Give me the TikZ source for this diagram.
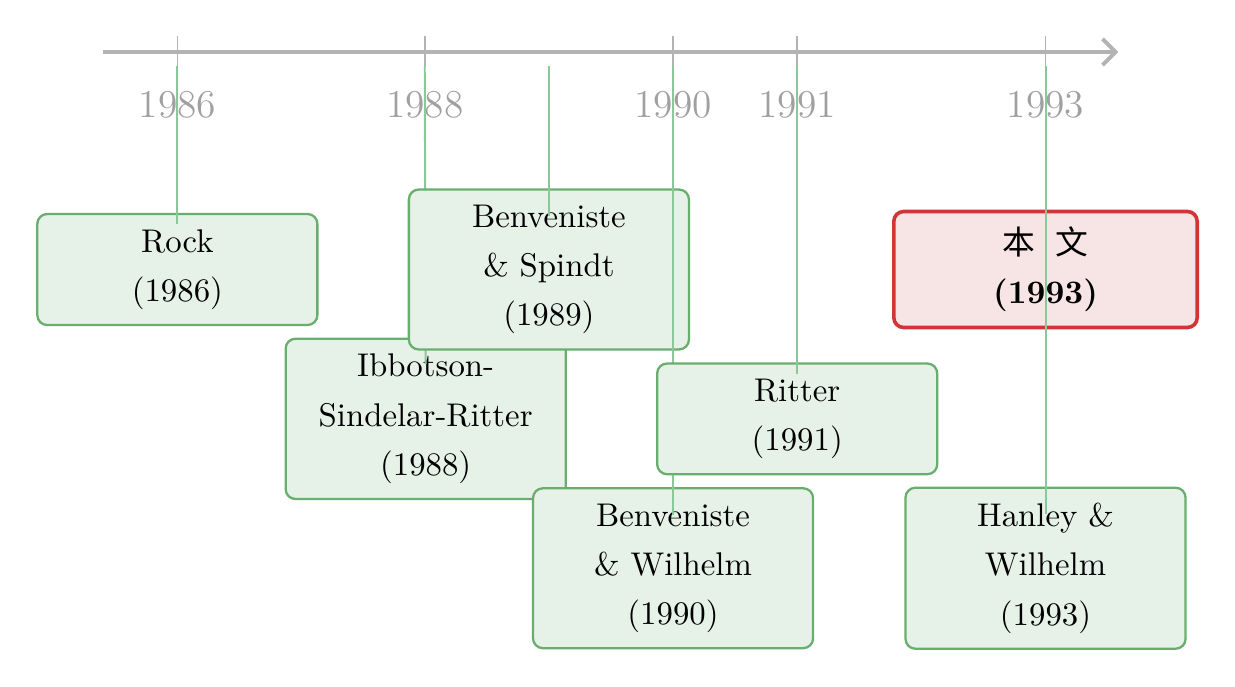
\documentclass[tikz,border=0pt]{standalone}
\usepackage{fontspec}
\newfontfamily\cjk{Noto Sans CJK SC}
\usetikzlibrary{arrows.meta}

\definecolor{axisgray}{HTML}{B3B3B3}
\definecolor{yeargray}{HTML}{A0A0A0}
\definecolor{boxgreen}{HTML}{6AAE6F}
\definecolor{fillgreen}{HTML}{E6F2E8}
\definecolor{linkgreen}{HTML}{8CC79A}
\definecolor{oursred}{HTML}{D13636}
\definecolor{fillred}{HTML}{F7E4E5}

\begin{document}
\begin{tikzpicture}[
  axis/.style={axisgray,line width=1.2pt},
  tick/.style={axisgray,line width=0.5pt},
  yearlabel/.style={text=yeargray,font=\large},
  work/.style={draw=boxgreen,fill=fillgreen,line width=0.7pt,rounded corners=3pt,
    align=center,minimum width=3.0cm,inner ysep=4.7pt,
    font={\fontsize{10}{15}\selectfont}},
  ours/.style={work,draw=oursred,fill=fillred,line width=1.1pt,minimum width=3.25cm},
  link/.style={linkgreen,line width=0.6pt},
  ourslink/.style={oursred,line width=0.6pt,opacity=0.4}
]
\useasboundingbox (0,0.557) rectangle (13.23,-6.792);

% time axis
\draw[axis,-{Straight Barb[length=4pt,width=8pt]}] (1.10,0) -- (11.98,0);
\foreach \x in {1.90,4.55,7.21,8.54,11.20}
  \draw[tick] (\x,0.17) -- (\x,-0.16);

\node[yearlabel] (l86) at (1.90,-0.57) {1986};
\node[yearlabel] (l88) at (4.55,-0.57) {1988};
\node[yearlabel] (l90) at (7.21,-0.57) {1990};
\node[yearlabel] (l91) at (8.54,-0.57) {1991};
\node[yearlabel] (l93) at (11.20,-0.57) {1993};

\coordinate (y86) at (1.90,-0.15);
\coordinate (y88) at (4.55,-0.15);
\coordinate (y89) at (5.88,-0.15);
\coordinate (y90) at (7.21,-0.15);
\coordinate (y91) at (8.54,-0.15);
\coordinate (y93) at (11.20,-0.15);

% works, oldest first
\node[work] (rock) at (1.90,-2.33) {Rock\\(1986)};
\draw[link] (y86) -- ([yshift=-3.4pt]rock.north);

\node[work] (ibbotson) at (4.56,-3.93) {Ibbotson-\\Sindelar-Ritter\\(1988)};
\draw[link] (y88) -- ([yshift=-8pt]ibbotson.north);

\node[work] (spindt) at (5.88,-2.33) {Benveniste\\\& Spindt\\(1989)};
\draw[link] (y89) -- ([yshift=-8.5pt]spindt.north);

\node[work] (wilhelm) at (7.21,-5.53) {Benveniste\\\& Wilhelm\\(1990)};
\draw[link] (y90) -- ([yshift=-8.5pt]wilhelm.north);

\node[work] (ritter) at (8.54,-3.93) {Ritter\\(1991)};
\draw[link] (y91) -- ([yshift=-3.4pt]ritter.north);

\node[ours] (ours) at (11.20,-2.33) {{\cjk 本\hspace{0.6em}文}\\\textbf{(1993)}};
\draw[ourslink] (y93) -- ([yshift=-3.4pt]ours.north);

\node[work] (hanley) at (11.20,-5.53) {Hanley \&\\Wilhelm\\(1993)};
\draw[link] (y93) -- ([yshift=-8.5pt]hanley.north);
\end{tikzpicture}
\end{document}
